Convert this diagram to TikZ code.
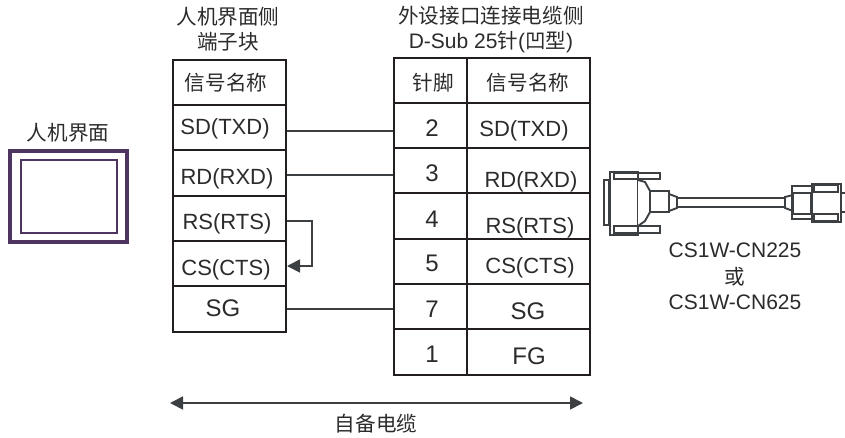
\documentclass[tikz,border=0pt]{standalone}
\usepackage{fontspec}
\usetikzlibrary{arrows.meta}
\setmainfont{Liberation Sans}
\newfontfamily\cjk{Noto Sans CJK SC}[Scale=0.98]
\definecolor{txt}{HTML}{2B2B2B}
\definecolor{line}{HTML}{231F20}
\definecolor{wirec}{HTML}{3C4043}
\definecolor{hmic}{HTML}{4E3560}
\tikzset{
  every node/.style={font=\fontsize{21}{24}\selectfont, text=txt, inner sep=0pt, outer sep=0pt},
  sig/.style={font=\fontsize{22}{24}\selectfont, yshift=-2pt},
  big/.style={font=\fontsize{24}{26}\selectfont},
  cellbox/.style={draw=line, line width=2pt, minimum width=#1, rectangle, anchor=north west},
  wire/.style={draw=wirec, line width=1.7pt, shorten <=1.5pt, shorten >=1.5pt},
  hmi/.style={draw=hmic},
  conn/.style={draw=wirec, line width=1.9pt, fill=white, line join=miter},
  tip/.style={-{Triangle[length=13pt,width=13pt]}},
}
\begin{document}
\begin{tikzpicture}[x=1pt,y=-1pt]
\useasboundingbox (0,0) rectangle (845,437);
% HMI
\node[hmi, line width=4pt, minimum width=117pt, minimum height=91pt, anchor=north west] (hmiouter) at (10,151) {};
\node[hmi, line width=2.5pt, minimum width=96pt, minimum height=73pt, anchor=north west] (hmiinner) at (21,160) {};
\node (hmilabel) at (68,133) {\cjk 人机界面};
% Titles
\node (t1) at (228,17) {\cjk 人机界面侧};
\node (t2) at (228,42) {\cjk 端子块};
\node (t3) at (491,16) {\cjk 外设接口连接电缆侧};
\node (t4) at (491,42) {D-Sub 25{\cjk 针}({\cjk 凹型})};
% Left table
\foreach \n/\a/\b in {l0/60/105,l1/105/150,l2/150/196,l3/196/241,l4/241/286,l5/286/332}{
  \pgfmathsetmacro{\h}{\b-\a}
  \node[cellbox=112.5pt, minimum height=\h pt] (\n) at (173,\a) {};
}
\node at (226,83) {\cjk 信号名称};
\node[sig] at (225,127) {SD(TXD)};
\node[sig] at (227,177) {RD(RXD)};
\node[sig] at (227,222) {RS(RTS)};
\node[sig] at (226,268) {CS(CTS)};
\node[big] at (223,308) {SG};
% Right table
\foreach \n/\a/\b in {p0/58/103,p1/103/148,p2/148/193,p3/193/239,p4/239/284,p5/284/329,p6/329/375}{
  \pgfmathsetmacro{\h}{\b-\a}
  \node[cellbox=73pt, minimum height=\h pt] (\n) at (394,\a) {};
}
\foreach \n/\a/\b in {s0/58/103,s1/103/148,s2/148/193,s3/193/239,s4/239/284,s5/284/329,s6/329/375}{
  \pgfmathsetmacro{\h}{\b-\a}
  \node[cellbox=123pt, minimum height=\h pt] (\n) at (467,\a) {};
}
\node at (433,83) {\cjk 针脚};
\node at (528,83) {\cjk 信号名称};
\node[big] at (432,128) {2};
\node[big] at (432,173) {3};
\node[big] at (432,219) {4};
\node[big] at (432,263) {5};
\node[big] at (432,309) {7};
\node[big] at (432,354) {1};
\node[sig] at (524,129) {SD(TXD)};
\node[sig] at (531,180) {RD(RXD)};
\node[sig] at (530,226) {RS(RTS)};
\node[sig] at (530,266) {CS(CTS)};
\node[big] at (528,311) {SG};
\node[big] at (529,356) {FG};
% Wires
\draw[wire] (l1.east |- 0,131) -- (p1.west |- 0,131);
\draw[wire] (l2.east |- 0,175) -- (p2.west |- 0,175);
\draw[wire] (l5.east |- 0,309) -- (p5.west |- 0,309);
\draw[wire, tip, shorten >=0pt] (l3.east |- 0,221) -| (312,266) -- ([xshift=1.5pt]l4.east |- 0,266);
% Span arrow
\coordinate (spanl) at (170,403);
\coordinate (spanr) at (583,403);
\draw[wire, shorten <=0pt, shorten >=0pt, {Triangle[length=13pt,width=13pt]}-{Triangle[length=13pt,width=13pt]}] (spanl) -- (spanr);
\node (spanlabel) at (376,424) {\cjk 自备电缆};
% Cable
\draw[conn] (604,180) rectangle (609,225);
\draw[conn] (638,173) rectangle (660,179);
\draw[conn] (638,226) rectangle (660,233);
\draw[conn] (610,172) rectangle (638,235);
\draw[conn] (614,173) rectangle (638,179);
\draw[conn] (614,226) rectangle (638,233);
\draw[conn] (638,180) -- (645,182) -- (650,191) -- (650,212) -- (645,221) -- (638,226);
\draw[conn] (650,191) rectangle (669,212);
\draw[conn] (669,194) -- (677,197) -- (677,208) -- (669,211) -- cycle;
\draw[conn] (677,198) rectangle (785,207);
\draw[conn] (785,197) -- (793,195) -- (793,211) -- (785,208) -- cycle;
\draw[conn] (792,186) rectangle (812,219);
\draw[conn] (792,186) rectangle (812,193);
\draw[conn] (792,214) rectangle (812,219);
\draw[conn] (793,193) rectangle (811,214);
\draw[conn] (812,184) rectangle (841,222);
\draw[conn] (814,185) rectangle (838,192);
\draw[conn] (814,214) rectangle (838,221);
\draw[conn] (841,193) -- (845,193);
\draw[conn] (841,212) -- (845,212);
\node (c1) at (735,250) {CS1W-CN225};
\node (c2) at (735,277) {\cjk 或};
\node (c3) at (735,302) {CS1W-CN625};
\end{tikzpicture}
\end{document}
